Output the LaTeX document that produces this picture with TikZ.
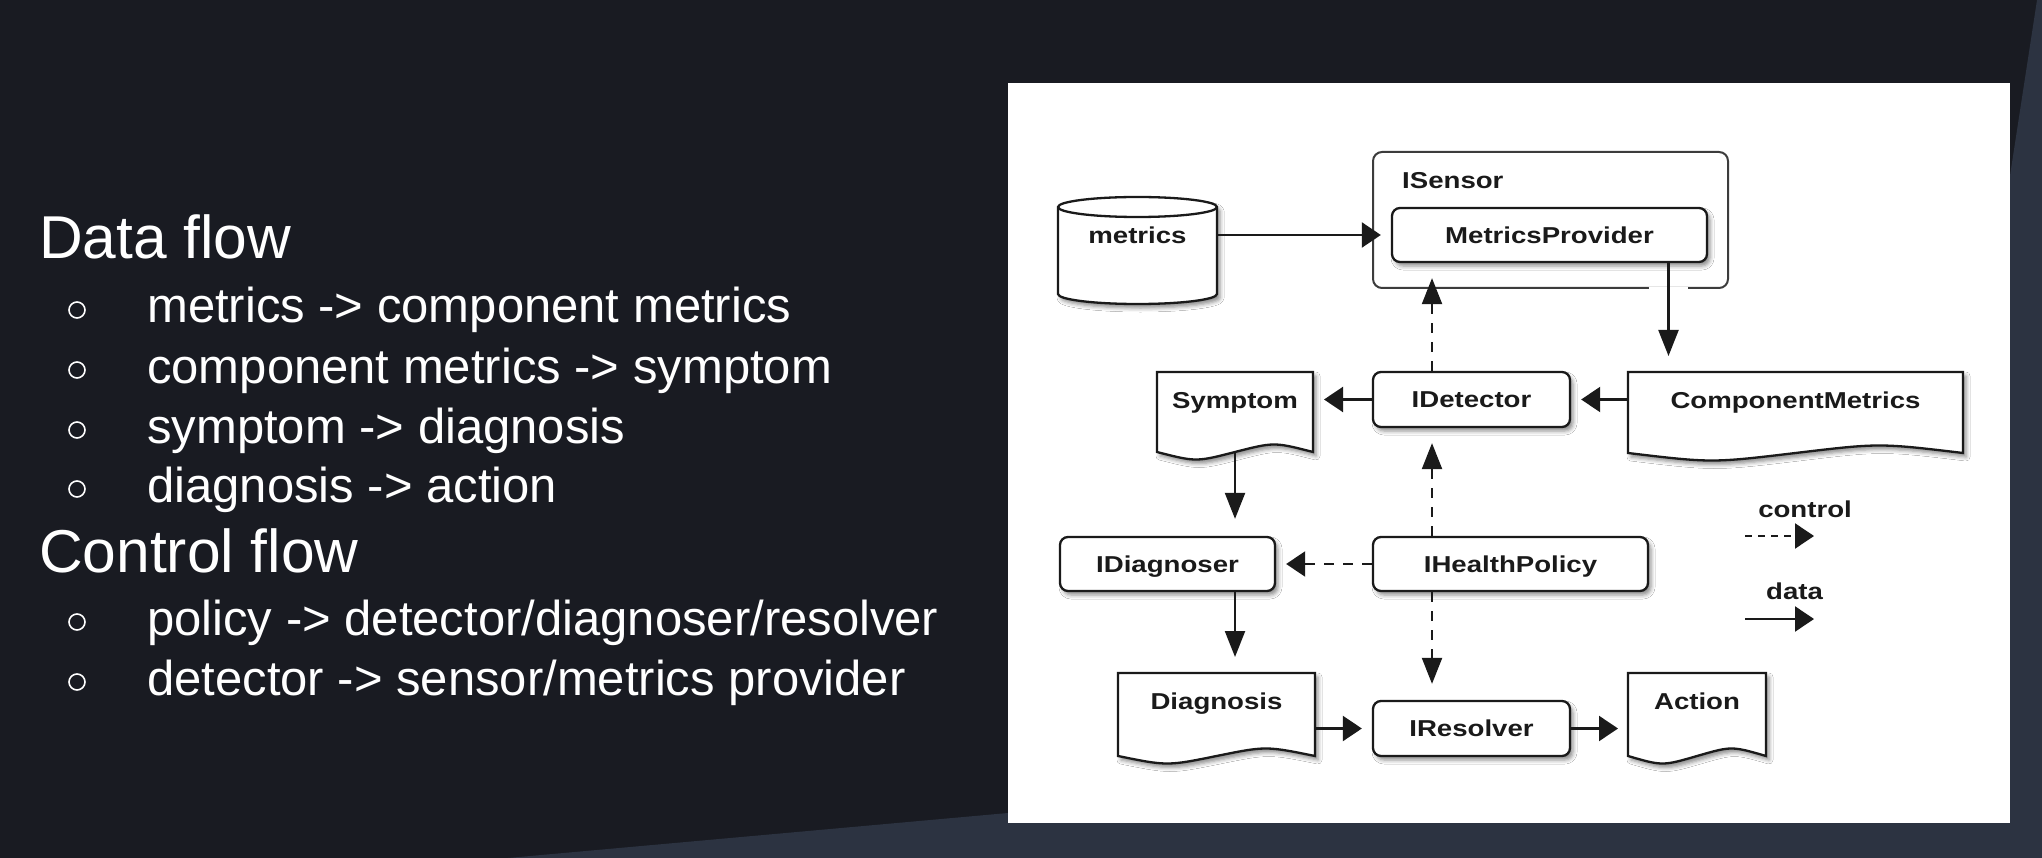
\documentclass[tikz,border=0pt]{standalone}
\usepackage{fontspec}
\setmainfont{Liberation Sans}
\newfontfamily\diagfont[FakeStretch=1.2]{Liberation Sans}
\usetikzlibrary{arrows.meta,calc,shadows.blur}

\definecolor{bgdark}{HTML}{191B22}
\definecolor{bgslate}{HTML}{2C3341}
\definecolor{ink}{HTML}{1A1A1A}

\tikzset{
  shade3/.style={blur shadow={shadow xshift=3pt,shadow yshift=-4pt,shadow blur radius=4pt,shadow opacity=45}},
  lbl/.style={font=\diagfont\bfseries\fontsize{23}{26}\selectfont, text=ink, inner sep=0pt, text height=16.5pt, text depth=0pt},
  rbox/.style={lbl, draw=ink, line width=2.3pt, rounded corners=8pt, fill=white, shade3},
  container/.style={draw=ink!85, line width=2pt, rounded corners=9pt, fill=white, inner sep=0pt},
  ghost/.style={inner sep=0pt, outer sep=0pt},
  docpath/.style={draw=ink, line width=2.3pt, fill=white, shade3},
  flow/.style={draw=ink, line width=2.2pt},
  data/.style={flow},
  ctrl/.style={flow, dash pattern=on 10pt off 9pt},
  harrow/.style={-{Triangle[length=19pt,width=25pt]}},
  varrow/.style={-{Triangle[length=26pt,width=20pt]}},
  heading/.style={text=white, inner sep=0pt, anchor=base west, font=\fontsize{60.5}{66}\selectfont},
  item/.style={text=white, inner sep=0pt, anchor=base west, font=\fontsize{49}{54}\selectfont},
  bullet/.style={draw=white, line width=1.6pt},
}

% document shape: flat top, wavy bottom; #1 name, #2 centre x, #3 top y,
% #4 width, #5 height of the straight sides, #6 text
\newcommand\mkdoc[6]{%
  \node[ghost, minimum width=#4pt, minimum height=#5pt, anchor=north] (#1) at (#2,#3) {};
  \path[docpath] (#1.north west) -- (#1.north east) -- (#1.south east)
     .. controls ($(#1.south)!0.5!(#1.south east)+(0,-10)$) .. (#1.south)
     .. controls ($(#1.south)!0.5!(#1.south west)+(0,10)$) .. (#1.south west) -- cycle;
  \node[lbl] (#1-text) at ($(#1.north)+(0,28)$) {#6};
}

\begin{document}
\begin{tikzpicture}[x=1pt,y=-1pt]
\useasboundingbox (0,0) rectangle (2042,858);

% slide background
\fill[bgdark] (0,0) rectangle (2042,858);
\fill[bgslate] (508,858) -- (1008,813) -- (2042,720) -- (2042,858) -- cycle;
\fill[bgslate] (2037,0) -- (2042,0) -- (2042,858) -- (1905,858) -- cycle;

% left column text
\node[heading] (dataflow) at (39,259) {Data flow};
\draw[bullet] (77,310) circle[radius=8pt];
\node[item] (d1) at (147,323) {metrics -> component metrics};
\draw[bullet] (77,370) circle[radius=8pt];
\node[item] (d2) at (147,383) {component metrics -> symptom};
\draw[bullet] (77,430) circle[radius=8pt];
\node[item] (d3) at (147,443) {symptom -> diagnosis};
\draw[bullet] (77,489) circle[radius=8pt];
\node[item] (d4) at (147,502) {diagnosis -> action};
\node[heading] (ctrlflow) at (39,572) {Control flow};
\draw[bullet] (77,622) circle[radius=8pt];
\node[item] (c1) at (147,635) {policy -> detector/diagnoser/resolver};
\draw[bullet] (77,682) circle[radius=8pt];
\node[item] (c2) at (147,695) {detector -> sensor/metrics provider};

% diagram panel
\fill[white] (1008,83) rectangle (2010,823);

% sensor container
\node[container, minimum width=355pt, minimum height=136pt] (isensor) at (1550.5,220) {};
\node[lbl, anchor=west] (isensorlbl) at (1402,180) {ISensor};

% metrics store (cylinder)
\node[ghost, minimum width=159pt, minimum height=87pt] (metrics) at (1137.5,250.5) {};
\path[draw=ink, line width=2.3pt, fill=white, shade3]
  (metrics.north west) -- (metrics.south west)
  arc[start angle=180, end angle=360, x radius=79.5pt, y radius=10pt]
  -- (metrics.north east)
  arc[start angle=0, end angle=180, x radius=79.5pt, y radius=10pt] -- cycle;
\draw[draw=ink, line width=2.3pt] (metrics.north west)
  arc[start angle=180, end angle=360, x radius=79.5pt, y radius=10pt];
\node[lbl] (metricslbl) at (1137.5,235) {metrics};

% components
\node[rbox, minimum width=315pt, minimum height=54pt] (mp) at (1549.5,235) {MetricsProvider};
\node[rbox, minimum width=197pt, minimum height=55pt] (det) at (1471.5,399.5) {IDetector};
\node[rbox, minimum width=215pt, minimum height=54pt] (idg) at (1167.5,564) {IDiagnoser};
\node[rbox, minimum width=275pt, minimum height=54pt] (hp) at (1510.5,564) {IHealthPolicy};
\node[rbox, minimum width=197pt, minimum height=55pt] (res) at (1471.5,728.5) {IResolver};

% data documents
\mkdoc{sym}{1235}{372}{156}{80}{Symptom}
\mkdoc{cm}{1795.5}{372}{335}{81}{ComponentMetrics}
\mkdoc{diag}{1216.5}{673}{197}{83}{Diagnosis}
\mkdoc{act}{1697}{673}{138}{83}{Action}

% data flow
\coordinate (mpout) at ($(mp.south)!0.75!(mp.south east)$);
\draw[white, line width=4pt] ($(mpout |- isensor.south)+(-20,0)$) -- ($(mpout |- isensor.south)+(19,0)$);
\draw[data, harrow, shorten >=10pt] (metrics.east |- mp.west) -- (mp.west);
\draw[data, varrow, shorten >=16pt] (mpout) -- (mpout |- cm.north);
\draw[data, harrow, shorten >=10pt] (cm.west |- det.east) -- (det.east);
\draw[data, harrow, shorten >=11pt] (det.west) -- (sym.east |- det.west);
\draw[data, varrow, shorten >=17pt] (sym.south) -- (idg.north -| sym.south);
\draw[data, varrow, shorten >=16pt] (idg.south -| sym.south) -- (diag.north -| sym.south);
\draw[data, harrow, shorten >=10pt] (diag.east |- res.west) -- (res.west);
\draw[data, harrow, shorten >=10pt] (res.east) -- (act.west |- res.east);

% control flow
\coordinate (cx) at ($(det.north)+(-39.5,0)$);
\draw[ctrl, varrow, shorten >=15pt] (cx) -- (cx |- mp.south);
\draw[ctrl, varrow, shorten >=15pt] (hp.north -| cx) -- (det.south -| cx);
\draw[ctrl, harrow, shorten >=10pt] (hp.west) -- (idg.east |- hp.west);
\draw[ctrl, varrow, shorten >=16pt] (hp.south -| cx) -- (res.north -| cx);

% legend
\node[lbl] (ctrllbl) at (1805,509) {control};
\coordinate (lc0) at (1745,536);
\coordinate (lc1) at (1814,536);
\draw[flow, dash pattern=on 7pt off 6pt, harrow] (lc0) -- (lc1);
\node[lbl] (datalbl) at (1794.5,591) {data};
\coordinate (ld0) at (1745,619);
\coordinate (ld1) at (1814,619);
\draw[data, harrow] (ld0) -- (ld1);
\end{tikzpicture}
\end{document}
